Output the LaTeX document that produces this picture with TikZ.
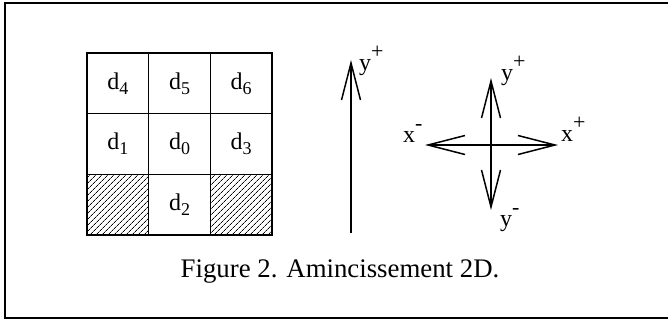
\documentclass[tikz,border=0pt]{standalone}
\usepackage{fontspec}
\setmainfont{Liberation Serif}
\usetikzlibrary{arrows.meta,positioning,patterns.meta}

\newcommand{\upidx}[1]{\raisebox{1.0ex}{\fontsize{22}{22}\selectfont #1}}
\newcommand{\lowidx}[1]{\raisebox{-0.45ex}{\fontsize{18}{18}\selectfont #1}}

\begin{document}
\begin{tikzpicture}[x=1pt, y=-1pt,
  cell/.style={draw, line width=1.5pt, minimum width=61.7pt, minimum height=60.7pt, inner sep=0pt, outer sep=0pt, font=\fontsize{24}{28}\selectfont},
  hatched/.style={cell, pattern={Lines[angle=45, distance=4pt, line width=0.7pt]}},
  axis/.style={line width=1.5pt, -{Straight Barb[length=37pt, width=19pt, line width=1.5pt]}},
  lbl/.style={inner sep=0pt, font=\fontsize{24}{28}\selectfont}
]
  \useasboundingbox (0,0) rectangle (668,322);
  % outer frame
  \draw[line width=1.6pt] (5,3) rectangle (690,318);

  % neighbourhood of d0
  \node[cell] (d4) at (117.8,83.3) {d\lowidx{4}};
  \node[cell, right=0pt of d4] (d5) {d\lowidx{5}};
  \node[cell, right=0pt of d5] (d6) {d\lowidx{6}};
  \node[cell, below=0pt of d4] (d1) {d\lowidx{1}};
  \node[cell, right=0pt of d1] (d0) {d\lowidx{0}};
  \node[cell, right=0pt of d0] (d3) {d\lowidx{3}};
  \node[hatched, below=0pt of d1] (hl) {};
  \node[cell, right=0pt of hl] (d2) {d\lowidx{2}};
  \node[hatched, right=0pt of d2] (hr) {};

  % single direction
  \coordinate (ybot) at (351,233);
  \coordinate (ytop) at (351,60);
  \draw[axis] (ybot) -- (ytop);
  \node[lbl, anchor=base west] (yplus) at (359,70) {y\upidx{+}};

  % four directions
  \coordinate (o) at (491,145);
  \coordinate (up) at (491,78);
  \coordinate (dn) at (491,210);
  \coordinate (lf) at (425,145);
  \coordinate (rt) at (558,145);
  \draw[axis] (o) -- (up);
  \draw[axis] (o) -- (dn);
  \draw[axis] (o) -- (lf);
  \draw[axis] (o) -- (rt);
  \node[lbl, anchor=base west] (yp) at (501,80) {y\upidx{+}};
  \node[lbl, anchor=base west] (ym) at (500,226) {y\upidx{-}};
  \node[lbl, anchor=base west] (xm) at (403,142) {x\upidx{-}};
  \node[lbl, anchor=base west] (xp) at (561,141) {x\upidx{+}};

  % caption
  \node[font=\fontsize{26.8}{32}\selectfont, anchor=base] (cap) at (340,277) {Figure 2. Amincissement 2D.};
\end{tikzpicture}
\end{document}
